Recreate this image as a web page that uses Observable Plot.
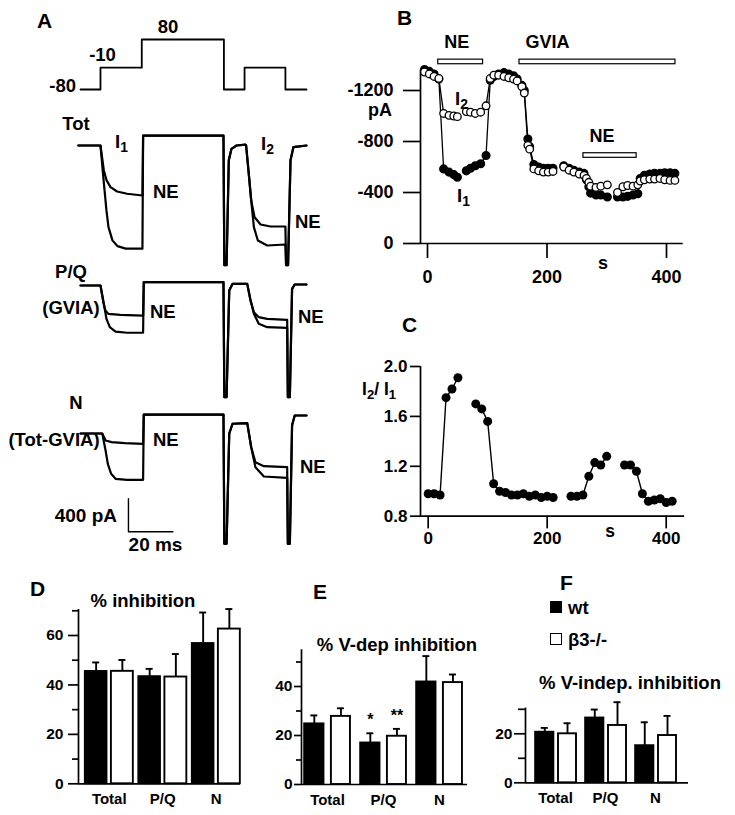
<!DOCTYPE html>
<html><head><meta charset="utf-8">
<script src="https://cdn.jsdelivr.net/npm/d3@7"></script>
<script src="https://cdn.jsdelivr.net/npm/@observablehq/plot@0.6"></script>
<style>
body{margin:0;background:#fff;}
#root{position:relative;width:735px;height:815px;overflow:hidden;font-family:'Liberation Sans',Arial,Helvetica,sans-serif;font-weight:bold;color:#000;background:#fff;}
.lbl{position:absolute;line-height:1;white-space:nowrap;}
.lbl sub{font-size:0.75em;position:relative;top:0.3em;vertical-align:baseline;line-height:0;}
.sq{position:absolute;width:12px;height:12px;border:1.5px solid #000;box-sizing:border-box;}
</style></head><body><div id="root"></div><script>
// ---------------- DATA ----------------
// Panel A: voltage protocol (ms, mV)
const vTime = [0, 9, 9, 27.6, 27.6, 64.6, 64.6, 73.9, 73.9, 92.3, 92.3, 101.8];
const vLevel = [-80, -80, -10, -10, 80, 80, -80, -80, -10, -10, -80, -80];
// Panel A: current traces [ms, pA]
const totCtrl = [[-1,0],[9,0],[10.4,-420],[11.7,-790],[12.6,-990],[14.4,-1150],[16.7,-1220],[20.3,-1250],[27.9,-1250],[28.2,120],[64.4,120],[64.8,-1450],[65.8,-1450],[66.8,-180],[68,-40],[70.3,0],[74.3,10],[74.6,0],[75.8,-343],[76.9,-667],[78.1,-990],[79.9,-1151],[84.1,-1212],[92.3,-1200],[92.6,-1450],[93.5,-1450],[94.6,-180],[95.9,-20],[101.8,0]];
const totNE = [[-1,0],[9,0],[10.5,-300],[11.7,-420],[13.5,-505],[16.5,-557],[21,-585],[27.9,-606],[28.2,120],[64.4,120],[64.8,-1450],[65.8,-1450],[66.8,-180],[68,-40],[70.3,0],[74.3,10],[74.6,0],[75.8,-343],[76.9,-667],[78.4,-869],[81.1,-958],[85.6,-982],[92.3,-982],[92.6,-1450],[93.5,-1450],[94.6,-180],[95.9,-20],[101.8,0]];
const pqCtrl = [[0,0],[9,0],[10.5,-222],[11.7,-404],[13.2,-505],[15.8,-558],[21,-573],[28.2,-573],[28.5,40],[64.4,40],[64.8,-1354],[65.8,-1354],[67,-60],[68.5,20],[75.1,20],[76.6,-182],[78.1,-343],[80.3,-464],[84.1,-505],[93.1,-513],[93.4,-1354],[94.3,-1354],[95.3,-40],[96.5,12],[101.8,12]];
const pqNE = [[0,0],[9,0],[10.3,-202],[11.2,-303],[12.5,-343],[18,-355],[28.2,-364],[28.5,40],[64.4,40],[64.8,-1354],[65.8,-1354],[67,-60],[68.5,20],[75.1,20],[76.6,-182],[78.1,-323],[80.3,-384],[84.1,-404],[93.1,-416],[93.4,-1354],[94.3,-1354],[95.3,-40],[96.5,12],[101.8,12]];
const nCtrl = [[0,0],[9.8,0],[11.3,-206],[12.3,-368],[13.8,-489],[15.8,-549],[21,-561],[28.2,-561],[28.5,230],[64.4,230],[64.8,-1337],[65.8,-1337],[67,0],[68.5,118],[75.1,125],[76.9,-166],[78.8,-408],[82.6,-521],[93.1,-537],[93.4,-1337],[94.3,-1337],[95.3,100],[96.5,218],[101.8,218]];
const nNE = [[0,0],[9.8,0],[11.3,-85],[14,-105],[20,-117],[28.2,-125],[28.5,230],[64.4,230],[64.8,-1337],[65.8,-1337],[67,0],[68.5,118],[75.1,125],[76.9,-166],[78.8,-348],[82.6,-396],[93.1,-408],[93.4,-1337],[94.3,-1337],[95.3,100],[96.5,218],[101.8,218]];
const scaleBarMs = 20, scaleBarPA = 400, scaleBarT = 21.6, scaleBarY = -1190;

// Panel B: time (s), I1 and I2 (pA)
const bTime = [-5,3,11,19,27,36,44,50,65,72,80,89,98,105,111,119,128,136,144,150,158,162,168,171,178,186,194,202,210,228,237,245,254,262,266,270,273,282,290,301,318,327,335,344,352,356,363,372,380,389,397,406,414];
const bI1 = [-1365,-1350,-1330,-1290,-585,-560,-540,-520,-570,-590,-610,-625,-690,-1280,-1310,-1330,-1340,-1330,-1315,-1290,-1240,-1200,-820,-760,-620,-600,-590,-590,-590,-610,-590,-575,-560,-550,-500,-445,-395,-380,-380,-365,-365,-365,-370,-380,-390,-510,-535,-545,-550,-550,-555,-555,-550];
const bI2 = [-1345,-1330,-1310,-1295,-1020,-1005,-1000,-995,-1035,-1030,-1020,-1030,-1080,-1295,-1320,-1320,-1310,-1300,-1290,-1275,-1230,-1180,-770,-740,-585,-570,-560,-560,-565,-600,-575,-560,-545,-535,-510,-480,-450,-440,-450,-460,-400,-445,-455,-450,-460,-490,-500,-505,-505,-510,-500,-495,-495];
const bYTicks = [0, -400, -800, -1200];
const bXTicks = [0, 200, 400];
const bBarLabel = ["NE", "GVIA", "NE"];
const bBarStart = [18, 154, 261];
const bBarEnd = [93, 415, 350];
const bBarLevel = [-1406, -1406, -672];

// Panel C: time (s), I2/I1
const cTime = [0,10,20,30,40,50,80,90,100,110,120,130,140,150,160,170,180,190,200,210,240,250,260,270,280,290,300,330,340,350,360,370,380,390,400,410];
const cRatio = [0.98,0.98,0.97,1.75,1.82,1.91,1.70,1.66,1.56,1.06,1.00,0.99,0.97,0.97,0.98,0.96,0.97,0.95,0.96,0.95,0.96,0.96,0.97,1.12,1.23,1.21,1.28,1.21,1.21,1.16,0.98,0.92,0.93,0.94,0.91,0.92];
const cYTicks = [0.8, 1.2, 1.6, 2.0];
const cXTicks = [0, 200, 400];

// Panels D-F
const cats = ["Total", "P/Q", "N"];
const dWt = [45.5, 43.4, 56.8], dWtErr = [3.6, 3.1, 12.5];
const dKo = [45.5, 43.2, 62.6], dKoErr = [4.6, 9.3, 8.1];
const eWt = [24.8, 17.0, 41.9], eWtErr = [3.4, 3.9, 10.5];
const eKo = [27.8, 19.7, 41.6], eKoErr = [3.3, 3.0, 3.3];
const eWtSig = ["", "*", ""], eKoSig = ["", "**", ""];
const fWt = [20.7, 26.5, 15.2], fWtErr = [1.7, 3.4, 9.5];
const fKo = [20.0, 23.4, 19.3], fKoErr = [4.3, 9.5, 8.0];
const legendLabels = ["wt", "β3-/-"];

// ---------------- HELPERS ----------------
const root = document.getElementById("root");
const FONT = "'Liberation Sans', Arial, Helvetica, sans-serif";
const st = (size) => ({fontFamily: FONT, fontWeight: "bold", fontSize: size + "px", background: "transparent", overflow: "visible", maxWidth: "none", color: "black"});
function mount(svg, left, top) {
  const w = document.createElement("div");
  w.style.position = "absolute"; w.style.left = left + "px"; w.style.top = top + "px";
  w.append(svg); root.append(w);
}
function txt(html, x, y, size = 18.5, anchor = "start") {
  const d = document.createElement("div");
  d.className = "lbl"; d.innerHTML = html;
  d.style.left = x + "px"; d.style.top = y + "px"; d.style.fontSize = size + "px";
  const tx = anchor === "middle" ? "-50%" : anchor === "end" ? "-100%" : "0";
  d.style.transform = `translate(${tx},-50%)`;
  root.append(d);
}
function segIds(ts, gap) { let s = 0; return ts.map((t, i) => { if (i > 0 && t - ts[i - 1] > gap) s++; return s; }); }

// ---------------- PANEL A ----------------
const aX = {domain: [0, 100], range: [80, 302]};
const vRows = vTime.map((t, i) => ({t, v: vLevel[i]}));
mount(Plot.plot({
  width: 360, height: 100, margin: 0, x: {...aX, axis: null}, y: {domain: [-80, 80], range: [89, 39], axis: null},
  style: st(18),
  marks: [Plot.line(vRows, {x: "t", y: "v", stroke: "black", strokeWidth: 1.8})]
}), 0, 0);

function tracePlot(series, base, height, extra = []) {
  return Plot.plot({
    width: 360, height, margin: 0, x: {...aX, axis: null}, y: {domain: [0, -1000], range: [base, base + 82.5], axis: null},
    style: st(18),
    marks: [...series.map(s => Plot.line(s, {x: d => d[0], y: d => d[1], stroke: "black", strokeWidth: 2.2, strokeLinejoin: "round"})), ...extra]
  });
}
mount(tracePlot([totCtrl, totNE], 45, 180), 0, 100);
mount(tracePlot([pqCtrl, pqNE], 35, 160), 0, 250);
const scaleBar = [[scaleBarT, scaleBarY + scaleBarPA], [scaleBarT, scaleBarY], [scaleBarT + scaleBarMs, scaleBarY]];
mount(tracePlot([nCtrl, nNE], 43, 170, [
  Plot.line(scaleBar, {x: d => d[0], y: d => d[1], stroke: "black", strokeWidth: 1.4})
]), 0, 390);

// ---------------- PANEL B ----------------
const bSeg = segIds(bTime, 12);
const bRows = bTime.map((t, i) => ({t, i1: bI1[i], i2: bI2[i], seg: bSeg[i]}));
const bBars = bBarLabel.map((label, i) => ({label, t1: bBarStart[i], t2: bBarEnd[i], v1: bBarLevel[i], v2: bBarLevel[i] - 36}));
mount(Plot.plot({
  width: 375, height: 300, marginLeft: 60, marginBottom: 57, marginTop: 0, marginRight: 0,
  x: {domain: [-11.7, 400], range: [60, 306]},
  y: {domain: [0, -1200], range: [243, 90]},
  style: st(18),
  marks: [
    Plot.ruleY([0], {x1: -11.7, x2: 428, stroke: "black", strokeWidth: 1.7}),
    Plot.ruleX([-11.7], {y1: 0, y2: -1360, stroke: "black", strokeWidth: 1.7}),
    Plot.axisY({ticks: bYTicks, tickSize: 17, tickPadding: 10, tickFormat: d => String(d), strokeWidth: 1.7, label: null}),
    Plot.axisX({ticks: bXTicks, tickSize: 15, tickPadding: 12, tickFormat: d => String(d), strokeWidth: 1.7, label: null}),
    Plot.rect(bBars, {x1: "t1", x2: "t2", y1: "v1", y2: "v2", fill: "white", stroke: "black", strokeWidth: 1.2}),
    Plot.text(bBars, {x: "t1", y: "v2", text: "label", textAnchor: "start", dx: 6, dy: -17}),
    Plot.line(bRows, {x: "t", y: "i1", z: "seg", stroke: "black", strokeWidth: 1.3}),
    Plot.line(bRows, {x: "t", y: "i2", z: "seg", stroke: "black", strokeWidth: 1.3}),
    Plot.dot(bRows, {x: "t", y: "i1", r: 3.8, fill: "black", stroke: "black"}),
    Plot.dot(bRows, {x: "t", y: "i2", r: 3.8, fill: "white", stroke: "black", strokeWidth: 1.3})
  ]
}), 360, 0);

// ---------------- PANEL C ----------------
const cSeg = segIds(cTime, 15);
const cRows = cTime.map((t, i) => ({t, r: cRatio[i], seg: cSeg[i]}));
mount(Plot.plot({
  width: 375, height: 270, marginLeft: 60, marginBottom: 44.3, marginTop: 0, marginRight: 0,
  x: {domain: [-12.9, 400], range: [60, 305.7]},
  y: {domain: [0.8, 2.0], range: [225.7, 76]},
  style: st(17),
  marks: [
    Plot.ruleY([0.8], {x1: -12.9, x2: 431, stroke: "black", strokeWidth: 1.7}),
    Plot.ruleX([-12.9], {y1: 0.8, y2: 2.0, stroke: "black", strokeWidth: 1.7}),
    Plot.axisY({ticks: cYTicks, tickSize: 10, tickPadding: 3, tickFormat: d3.format(".1f"), strokeWidth: 1.7, label: null}),
    Plot.axisX({ticks: cXTicks, tickSize: 12.7, tickPadding: 3.3, tickFormat: d => String(d), strokeWidth: 1.7, label: null}),
    Plot.line(cRows, {x: "t", y: "r", z: "seg", stroke: "black", strokeWidth: 1.4}),
    Plot.dot(cRows, {x: "t", y: "r", r: 4.5, fill: "black"})
  ]
}), 360, 290);

// ---------------- PANELS D-F ----------------
function barPanel(c) {
  const ppu = (c.xr[1] - c.xr[0]) / (c.xd[1] - c.xd[0]);
  const cap = 3.5 / ppu;
  const rows = cats.map((name, i) => ({
    i, name, wt: c.wt[i], wtTop: c.wt[i] + c.wtErr[i], ko: c.ko[i], koTop: c.ko[i] + c.koErr[i],
    wtC: i + (c.wtPos[0] + c.wtPos[1]) / 2, koC: i + (c.koPos[0] + c.koPos[1]) / 2,
    wtSig: c.wtSig ? c.wtSig[i] : "", koSig: c.koSig ? c.koSig[i] : ""
  }));
  const marks = [
    Plot.ruleY([0], {x1: c.xd[0], x2: c.xEnd, stroke: "black", strokeWidth: 1.7}),
    Plot.ruleX([c.xd[0]], {y1: 0, y2: c.yTop, stroke: "black", strokeWidth: 1.7}),
    Plot.axisY({ticks: c.majors, tickSize: c.majorSize, tickPadding: c.pad, tickFormat: d => String(d), strokeWidth: 1.7, label: null, fontSize: 15.5}),
    Plot.axisY({ticks: c.minors, tickSize: c.minorSize, tickFormat: () => "", strokeWidth: 1.7, label: null}),
    Plot.axisX({ticks: [0.5, 1.5, 2.5], tickSize: 0, tickPadding: c.catPad, tickFormat: d => cats[Math.floor(d)], label: null, fontSize: 15}),
    Plot.rectY(rows, {x1: d => d.i + c.wtPos[0], x2: d => d.i + c.wtPos[1], y: "wt", fill: "black", stroke: "black", strokeWidth: 1.6}),
    Plot.rectY(rows, {x1: d => d.i + c.koPos[0], x2: d => d.i + c.koPos[1], y: "ko", fill: "white", stroke: "black", strokeWidth: 1.9}),
    Plot.ruleX(rows, {x: "wtC", y1: "wt", y2: "wtTop", stroke: "black", strokeWidth: 1.9}),
    Plot.ruleY(rows, {y: "wtTop", x1: d => d.wtC - cap, x2: d => d.wtC + cap, stroke: "black", strokeWidth: 1.9}),
    Plot.ruleX(rows, {x: "koC", y1: "ko", y2: "koTop", stroke: "black", strokeWidth: 1.9}),
    Plot.ruleY(rows, {y: "koTop", x1: d => d.koC - cap, x2: d => d.koC + cap, stroke: "black", strokeWidth: 1.9})
  ];
  if (c.wtSig) {
    marks.push(Plot.text(rows, {x: "wtC", y: "wtTop", text: "wtSig", dy: -13, fontSize: 16}));
    marks.push(Plot.text(rows, {x: "koC", y: "koTop", text: "koSig", dy: -13, fontSize: 16}));
  }
  return Plot.plot({
    width: 250, height: 255, marginLeft: c.mL, marginBottom: c.mB, marginTop: 0, marginRight: 0,
    x: {domain: c.xd, range: c.xr}, y: {domain: c.yd, range: c.yr},
    style: st(15), marks
  });
}
mount(barPanel({
  wt: dWt, wtErr: dWtErr, ko: dKo, koErr: dKoErr,
  xd: [-0.075, 3], xr: [78, 242.5], yd: [0, 60], yr: [223.3, 75], yTop: 70.5, xEnd: 2.953,
  majors: [0, 20, 40, 60], minors: [10, 30, 50, 70], majorSize: 10, minorSize: 6, pad: 5, catPad: 10,
  wtPos: [0.05, 0.46], koPos: [0.54, 0.95], mL: 78, mB: 31.7
}), 0, 560);
mount(barPanel({
  wt: eWt, wtErr: eWtErr, ko: eKo, koErr: eKoErr, wtSig: eWtSig, koSig: eKoSig,
  xd: [0.036, 3], xr: [61, 227], yd: [0, 40], yr: [224, 126], yTop: 55, xEnd: 3.0,
  majors: [0, 20, 40], minors: [10, 30, 50], majorSize: 7, minorSize: 5, pad: 2, catPad: 9.5,
  wtPos: [0.09, 0.44], koPos: [0.57, 0.91], mL: 61, mB: 31
}), 240, 560);
mount(barPanel({
  wt: fWt, wtErr: fWtErr, ko: fKo, koErr: fKoErr,
  xd: [-0.1, 3], xr: [40, 195], yd: [0, 20], yr: [222.3, 173.3], yTop: 30.5, xEnd: 3.16,
  majors: [0, 20], minors: [10, 30], majorSize: 11, minorSize: 7, pad: 2, catPad: 10,
  wtPos: [0.1, 0.47], koPos: [0.56, 0.92], mL: 40, mB: 32.7
}), 485, 560);

// ---------------- TEXT LABELS ----------------
txt("A", 37, 20, 21); txt("B", 397, 17, 21); txt("C", 402, 323.5, 21);
txt("D", 30, 587.5, 21); txt("E", 313, 590.5, 21); txt("F", 560, 582, 21);
txt("80", 168, 27, 18.5, "middle"); txt("-10", 102.5, 55, 18.5, "middle"); txt("-80", 76, 85.5, 18.5, "end");
txt("Tot", 76, 123.5, 18.5, "middle");
txt("I<sub>1</sub>", 115, 142); txt("NE", 153, 192); txt("I<sub>2</sub>", 261, 144); txt("NE", 295, 222);
txt("P/Q", 71, 271.5, 18.5, "middle"); txt("(GVIA)", 71, 308, 18.5, "middle");
txt("NE", 150, 311.5); txt("NE", 298, 316.7);
txt("N", 76, 402.5, 18.5, "middle"); txt("(Tot-GVIA)", 54, 440, 18.5, "middle");
txt("NE", 153, 440); txt("NE", 300, 467);
txt("400 pA", 117, 515, 19, "end"); txt("20 ms", 155.5, 543.5, 19, "middle");
txt("pA", 380, 110, 18, "middle");
txt("I<sub>2</sub>", 455, 99); txt("I<sub>1</sub>", 457, 196);
txt("s", 603, 263, 18, "middle");
txt("I<sub>2</sub>/ I<sub>1</sub>", 362, 390, 17.5);
txt("s", 610, 532, 17.5, "middle");
txt("% inhibition", 143, 600.5, 18.5, "middle");
txt("% V-dep inhibition", 397, 644.5, 18.5, "middle");
txt("% V-indep. inhibition", 630, 682.5, 18.5, "middle");
// legend
const sq1 = document.createElement("div"); sq1.className = "sq"; sq1.style.left = "550px"; sq1.style.top = "601px"; sq1.style.background = "#000"; root.append(sq1);
const sq2 = document.createElement("div"); sq2.className = "sq"; sq2.style.left = "550px"; sq2.style.top = "633px"; sq2.style.background = "#fff"; root.append(sq2);
txt(legendLabels[0], 568, 608, 18.5); txt(legendLabels[1], 568, 640, 18.5);
</script></body></html>
